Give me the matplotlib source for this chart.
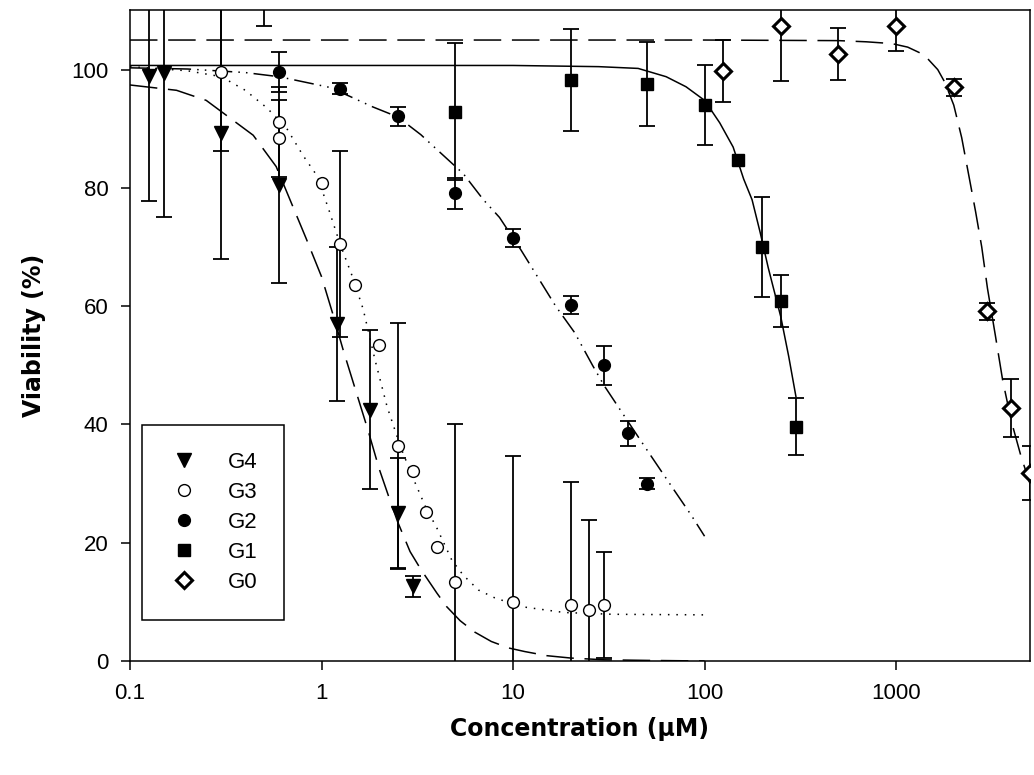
import matplotlib
matplotlib.use('Agg')
import matplotlib.pyplot as plt
import numpy as np

plt.rcParams['font.family'] = ['Liberation Sans', 'DejaVu Sans']

# measured points (concentration in uM, viability in %, error)
g4_conc = [0.125, 0.15, 0.3, 0.6, 1.2, 1.8, 2.5, 3.0]
g4_via = [99.0, 99.5, 89.3, 80.5, 57.0, 42.5, 25.0, 12.6]
g4_err = [21.2, 24.5, 21.4, 16.5, 13.0, 13.5, 9.3, 1.7]

g3_conc = [0.3, 0.5, 0.6, 0.6, 1.0, 1.25, 1.5, 2.0, 2.5, 3.0, 3.5, 4.0, 5.0, 10, 20, 25, 30]
g3_via = [99.6, 125.0, 91.2, 88.4, 80.8, 70.5, 63.6, 53.4, 36.3, 32.2, 25.2, 19.3, 13.3, 9.9, 9.5, 8.7, 9.5]
g3_err = [13.3, 17.7, 0, 6.5, 0, 15.7, 0, 0, 20.8, 0, 0, 0, 26.7, 24.8, 20.8, 15.1, 9.0]

g2_conc = [0.6, 1.25, 2.5, 5, 10, 20, 30, 40, 50]
g2_via = [99.6, 96.8, 92.1, 79.1, 71.5, 60.2, 50.0, 38.5, 30.0]
g2_err = [3.4, 1.0, 1.6, 2.6, 1.5, 1.5, 3.3, 2.1, 1.0]

g1_conc = [5, 20, 50, 100, 150, 200, 250, 300]
g1_via = [92.9, 98.2, 97.5, 94.0, 84.7, 70.0, 60.9, 39.6]
g1_err = [11.6, 8.6, 7.1, 6.8, 0, 8.4, 4.4, 4.8]

g0_conc = [125, 250, 500, 1000, 2000, 3000, 4000, 5000]
g0_via = [99.8, 107.4, 102.6, 107.4, 97.0, 59.1, 42.7, 31.8]
g0_err = [5.2, 9.3, 4.4, 4.2, 1.4, 1.5, 4.9, 4.5]

# fitted curves
g4_fit_x = [0.1, 0.175, 0.25, 0.44, 0.58, 0.83, 1.0, 1.15, 1.3, 1.5, 1.75, 2.0, 2.26,
            2.5, 2.9, 3.3, 4.0, 4.5, 5.3, 6.3, 7.7, 9.5, 11.5, 15, 20, 30, 50, 100]
g4_fit_y = [97.4, 96.5, 94.8, 88.9, 83.6, 71.5, 65.0, 58.5, 52.5, 46.0, 39.0, 32.5, 27.5,
            23.5, 18.5, 15.5, 11.5, 9.2, 6.8, 4.9, 3.3, 2.2, 1.6, 0.9, 0.5, 0.2, 0.1, 0.0]

g3_fit_x = [0.1, 0.2, 0.3, 0.4, 0.52, 0.66, 0.8, 0.95, 1.1, 1.25, 1.45, 1.65, 1.9, 2.2,
            2.6, 3.0, 3.5, 4.0, 4.8, 5.5, 6.6, 8.0, 11, 18.5, 33, 100]
g3_fit_y = [100.5, 99.8, 98.8, 96.5, 93.5, 90.0, 85.5, 82.0, 76.0, 70.5, 65.0, 59.5, 51.0, 43.0,
            36.0, 31.0, 26.0, 22.5, 17.0, 14.5, 12.0, 10.7, 9.2, 8.2, 7.9, 7.8]

g2_fit_x = [0.1, 0.2, 0.4, 0.6, 0.9, 1.1, 1.4, 1.85, 2.5, 3.3, 4.0, 5.5, 7.0, 8.5, 11,
            16.7, 21, 26, 30, 40, 50, 60, 70, 85, 100]
g2_fit_y = [100.3, 100.1, 99.5, 98.8, 97.6, 97.0, 95.5, 93.7, 92.0, 89.0, 86.5, 82.4, 78.0, 75.0, 69.5,
            60.0, 55.5, 50.0, 46.5, 40.4, 35.7, 31.9, 28.7, 24.7, 21.1]

g1_fit_x = [0.1, 1, 10, 28, 45, 63, 80, 100, 120, 141, 160, 177, 195, 215, 250, 275, 300]
g1_fit_y = [100.7, 100.7, 100.7, 100.5, 100.2, 98.8, 97.1, 94.8, 91.0, 86.9, 81.5, 78.0, 72.5,
            66.5, 58.2, 51.5, 44.7]

g0_fit_x = [0.1, 10, 100, 500, 700, 950, 1150, 1400, 1650, 1800, 2000, 2200, 2400, 2600,
            2800, 3000, 3300, 3600, 4000, 4500, 5000]
g0_fit_y = [105.0, 105.0, 105.0, 104.9, 104.7, 104.4, 103.8, 102.5, 100.0, 97.8, 94.0, 88.5,
            82.0, 76.0, 70.0, 63.0, 55.0, 47.5, 40.5, 34.5, 30.0]

x_ticks = [0.1, 1, 10, 100, 1000]
x_tick_labels = ['0.1', '1', '10', '100', '1000']
y_ticks = [0, 20, 40, 60, 80, 100]

fig = plt.figure(figsize=(10.34, 7.75), dpi=100)
ax = fig.add_axes([0.1257, 0.1471, 0.8704, 0.8394])

lw = 1.1
ax.plot(g4_fit_x, g4_fit_y, color='black', lw=lw, dashes=(18, 7), zorder=2)
ax.plot(g3_fit_x, g3_fit_y, color='black', lw=lw, dashes=(1, 4.5), zorder=2)
ax.plot(g2_fit_x, g2_fit_y, color='black', lw=lw, dashes=(13, 4, 1, 4, 1, 4), zorder=2)
ax.plot(g1_fit_x, g1_fit_y, color='black', lw=lw, zorder=2)
ax.plot(g0_fit_x, g0_fit_y, color='black', lw=lw, dashes=(18, 7), zorder=2)

series = [
    ('G4', g4_conc, g4_via, g4_err, dict(marker='v', ms=10, mfc='black', mec='black')),
    ('G3', g3_conc, g3_via, g3_err, dict(marker='o', ms=8.5, mfc='white', mec='black', mew=1.0)),
    ('G2', g2_conc, g2_via, g2_err, dict(marker='o', ms=8.5, mfc='black', mec='black')),
    ('G1', g1_conc, g1_via, g1_err, dict(marker='s', ms=9, mfc='black', mec='black')),
    ('G0', g0_conc, g0_via, g0_err, dict(marker='D', ms=8, mfc='white', mec='black', mew=2.2)),
]

handles = []
for name, xs, ys, es, style in series:
    xs = np.array(xs, dtype=float)
    ys = np.array(ys, dtype=float)
    es = np.array(es, dtype=float)
    m = es > 0
    ax.errorbar(xs[m], ys[m], yerr=es[m], fmt='none', ecolor='black',
                elinewidth=1.3, capsize=6, capthick=1.3, zorder=3)
    h, = ax.plot(xs, ys, linestyle='none', label=name, zorder=4, **style)
    handles.append(h)

ax.set_xscale('log')
ax.set_xlim(0.1, 5000)
ax.set_ylim(0, 110)
ax.set_xticks(x_ticks)
ax.set_xticklabels(x_tick_labels)
ax.xaxis.set_minor_locator(matplotlib.ticker.NullLocator())
ax.set_yticks(y_ticks)

for s in ax.spines.values():
    s.set_linewidth(1.1)
ax.tick_params(direction='out', length=6.5, width=1.1, labelsize=16, pad=9)

ax.set_xlabel('Concentration (µM)', fontsize=17, fontweight='bold',
              family='DejaVu Sans', labelpad=10)
ax.set_ylabel('Viability (%)', fontsize=17, fontweight='bold',
              family='DejaVu Sans', labelpad=18)

leg = ax.legend(handles=handles, loc='upper left', bbox_to_anchor=(0.013, 0.3628),
                borderaxespad=0, fontsize=16, numpoints=1, handlelength=1.4,
                handletextpad=1.26, labelspacing=0.41, borderpad=1.2,
                fancybox=False, framealpha=1, edgecolor='black')
leg.get_frame().set_linewidth(1.1)

fig.savefig('out.png', dpi=100)
